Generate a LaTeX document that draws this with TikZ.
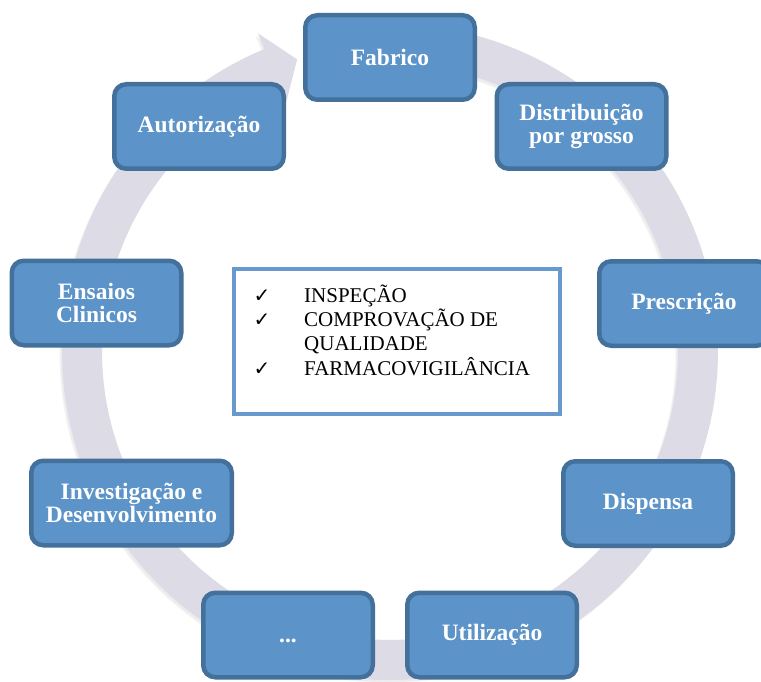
\documentclass[tikz,border=0pt]{standalone}
\usepackage{fontspec}
\setmainfont{Liberation Serif}
\newfontfamily\djv{DejaVu Sans}
\definecolor{boxfill}{RGB}{92,147,200}
\definecolor{boxline}{RGB}{67,113,156}
\definecolor{ringcol}{RGB}{221,219,229}
\definecolor{ringshadow}{RGB}{120,120,130}
\definecolor{infoline}{RGB}{104,153,204}
\def\ringpath{plot[domain=-80:247.5, samples=160] ({390+328*cos(\x)},{352+328*sin(\x)})
 -- ({390+345*cos(247.5)},{352+345*sin(247.5)})
 -- ({390+307*cos(252.4)},{352+307*sin(252.4)})
 -- ({390+271*cos(247.5)},{352+271*sin(247.5)})
 -- plot[domain=247.5:-80, samples=160] ({390+288*cos(\x)},{352+288*sin(\x)}) -- cycle}
\begin{document}
\begin{tikzpicture}[x=1pt,y=-1pt,
  stage/.style={draw=boxline, fill=boxfill, line width=4.5pt, rounded corners=12pt,
    text=white, font=\fontsize{23.5}{23.5}\selectfont\bfseries, align=center,
    inner sep=0pt, minimum width=169.5pt, minimum height=84.5pt},
  checkmk/.style={anchor=base, inner sep=0pt, font=\djv\fontsize{20}{20}\selectfont},
  infotext/.style={anchor=base west, inner sep=0pt, font=\fontsize{21}{24}\selectfont}
]
\useasboundingbox (0,0) rectangle (761,682);
\fill[white] (0,0) rectangle (761,682);
\clip (0,0) rectangle (761,682);
% ring shadow
\foreach \dx/\dy in {-1.5/2,-2.5/3}{
  \fill[ringshadow, opacity=0.07, shift={(\dx,\dy)}] \ringpath;
}
% ring
\fill[ringcol] \ringpath;
% stage boxes
\node[stage] (fab) at (390,57.5) {Fabrico};
\node[stage] (dist) at (581.5,126.5) {Distribuição\\por grosso};
\node[stage] (presc) at (684,303.5) {Prescrição};
\node[stage] (disp) at (648,503.5) {Dispensa};
\node[stage] (util) at (492,635) {Utilização};
\node[stage] (dots) at (288,635) {\vphantom{Fb}...};
\node[stage, minimum width=200.5pt] (invest) at (131.5,503) {Investigação e\\Desenvolvimento};
\node[stage] (ens) at (96.5,303) {Ensaios\\Clinicos};
\node[stage] (aut) at (199,126.5) {Autorização};
% info box
\node[draw=infoline, line width=4pt, minimum width=326pt, minimum height=145pt, inner sep=0pt] (info) at (397,341.5) {};
\node[checkmk] (c1) at (262,302.7) {✓};
\node[infotext] (t1) at (304,302.7) {INSPEÇÃO};
\node[checkmk] (c2) at (262,326.5) {✓};
\node[infotext] (t2) at (304,326.5) {COMPROVAÇÃO DE};
\node[infotext] (t3) at (304,350.7) {QUALIDADE};
\node[checkmk] (c3) at (262,375) {✓};
\node[infotext] (t4) at (304,375) {FARMACOVIGILÂNCIA};
\end{tikzpicture}
\end{document}
